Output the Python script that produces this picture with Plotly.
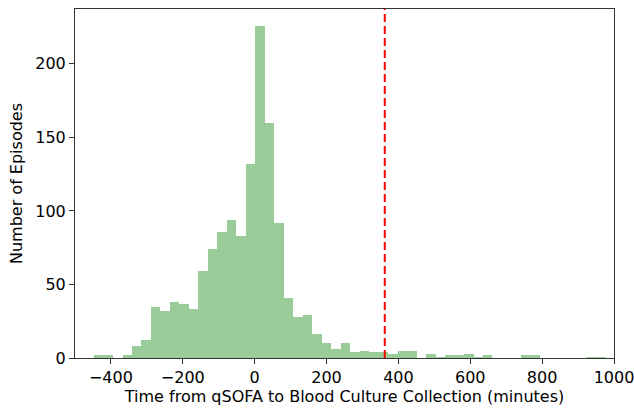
import plotly.graph_objects as go

# Histogram bins (minutes) and counts
bin_start = -447.0
bin_width = 26.4
counts = [2, 2, 0, 2, 8, 12, 35, 32, 38, 37, 33, 59, 74, 86, 94, 83, 132,
          226, 160, 92, 41, 28, 29, 16, 10, 6, 10, 4, 5, 4, 4, 3, 5, 5, 0,
          3, 1, 2, 2, 3, 1, 2, 0, 0, 0, 2, 2, 0, 0, 0, 0, 0, 1, 1]
threshold = 362  # minutes

x_ticks = [-400, -200, 0, 200, 400, 600, 800, 1000]
y_ticks = [0, 50, 100, 150, 200]

centers = [bin_start + bin_width * (i + 0.5) for i in range(len(counts))]

fig = go.Figure()
fig.add_trace(go.Bar(
    x=centers, y=counts, width=[bin_width] * len(counts),
    marker=dict(color="rgba(0,128,0,0.4)", line=dict(width=0)),
    showlegend=False,
))
fig.add_shape(type="line", x0=threshold, x1=threshold, y0=0, y1=1,
              xref="x", yref="paper",
              line=dict(color="red", width=2, dash="8px,4px"))

font = dict(family="DejaVu Sans", size=16, color="#000000")
fig.update_layout(
    width=634, height=408,
    margin=dict(l=75, r=20, t=9, b=50),
    paper_bgcolor="white", plot_bgcolor="white",
    bargap=0,
    font=font,
    xaxis=dict(range=[-500, 1000], tickvals=x_ticks, automargin=False,
               ticklabeloverflow="allow",
               ticks="outside", ticklen=5, tickwidth=1, tickcolor="#333",
               showline=True, linecolor="#333", linewidth=1, mirror=True,
               showgrid=False, zeroline=False,
               title=dict(text="Time from qSOFA to Blood Culture Collection (minutes)",
                          font=font, standoff=2)),
    yaxis=dict(range=[0, 237.3], tickvals=y_ticks, automargin=False,
               ticklabeloverflow="allow",
               ticks="outside", ticklen=5, tickwidth=1, tickcolor="#333",
               showline=True, linecolor="#333", linewidth=1, mirror=True,
               showgrid=False, zeroline=False,
               title=dict(text="Number of Episodes", font=font, standoff=8)),
)

fig.write_html(
    "out.html",
    config={"displayModeBar": False},
    post_script="document.body.style.margin='0';document.body.style.overflow='hidden';",
)
